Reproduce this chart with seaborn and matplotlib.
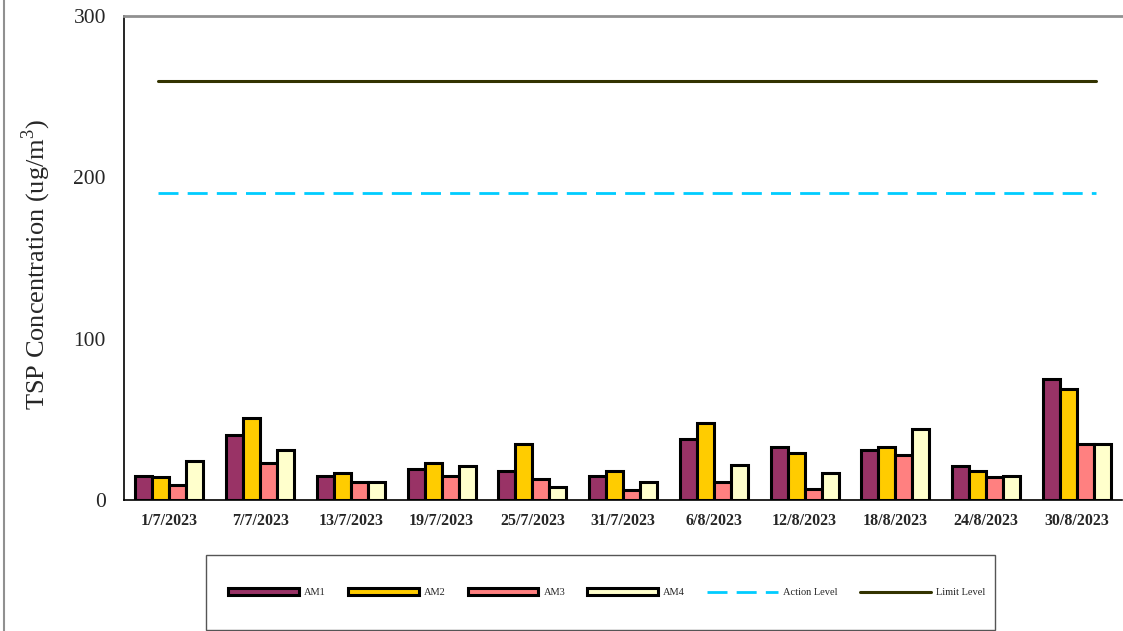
import matplotlib
matplotlib.use("Agg")
import matplotlib.pyplot as plt
import seaborn as sns
import pandas as pd
import numpy as np
from matplotlib.patches import Patch, Rectangle
from matplotlib.lines import Line2D

dates = ["1/7/2023", "7/7/2023", "13/7/2023", "19/7/2023", "25/7/2023", "31/7/2023",
         "6/8/2023", "12/8/2023", "18/8/2023", "24/8/2023", "30/8/2023"]
am1 = [15, 40, 15, 19, 18, 15, 38, 33, 31, 21, 75]
am2 = [14, 51, 17, 23, 35, 18, 48, 29, 33, 18, 69]
am3 = [9, 23, 11, 15, 13, 6, 11, 7, 28, 14, 35]
am4 = [24, 31, 11, 21, 8, 11, 22, 17, 44, 15, 35]
action_level = 190
limit_level = 260
series_names = ["AM1", "AM2", "AM3", "AM4"]
colors = ["#993366", "#FFCC00", "#FF8080", "#FFFFCC"]

sns.set_style("white")
plt.rcParams['font.family'] = ['Liberation Serif', 'DejaVu Serif']
plt.rcParams['mathtext.fontset'] = 'custom'
plt.rcParams['mathtext.rm'] = 'Liberation Serif'

rows = []
for name, vals in zip(series_names, [am1, am2, am3, am4]):
    for d, v in zip(dates, vals):
        rows.append({"Date": d, "Series": name, "Value": v})
df = pd.DataFrame(rows)

fig = plt.figure(figsize=(11.23, 6.31), dpi=100)
ax = fig.add_axes([0.1104, 0.2076, 0.889, 0.767])

sns.barplot(data=df, x="Date", y="Value", hue="Series", order=dates,
            hue_order=series_names, palette=colors, width=0.75,
            edgecolor="black", linewidth=2.2, ax=ax, legend=False, saturation=1)

dash = (0, (7.2, 3.3))
n = len(dates)
xs = [-0.12, n - 1 + 0.21]
ax.plot(xs, [action_level] * 2, color="#00CCFF", lw=2, ls=dash)
ax.plot(xs, [limit_level] * 2, color="#333300", lw=2.2)

ax.set_xlim(-0.5, n - 0.5)
ax.set_ylim(0, 300)
ax.set_yticks([0, 100, 200, 300])
ax.set_xticks(np.arange(n))
ax.set_xticklabels(dates, fontsize=11.5, fontweight="bold")
ax.tick_params(axis="x", length=0, pad=9)
ax.set_xticks(np.arange(n - 1) + 0.5, minor=True)
ax.tick_params(axis="x", which="minor", direction="in", length=4, width=1, color="#444444")
ax.tick_params(axis="y", direction="in", length=5, width=1, labelsize=15.5, pad=13, color="black")
ax.set_xlabel("")
ax.set_ylabel("TSP Concentration (ug/m$^{\\mathregular{3}}$)", fontsize=19)
ax.yaxis.set_label_coords(-0.0715, 0.486)

for s in ["left", "bottom"]:
    ax.spines[s].set_color("black")
    ax.spines[s].set_linewidth(1.2)
ax.spines["top"].set_color("#909090")
ax.spines["top"].set_linewidth(2)
ax.spines["right"].set_visible(False)

# legend frame box
box_x0, box_y0, box_w, box_h = 206 / 1123, 1 / 631, 789 / 1123, 75 / 631
fig.add_artist(Rectangle((box_x0, box_y0), box_w, box_h, transform=fig.transFigure,
                         facecolor="white", edgecolor="#555555", lw=1))

handles = [Patch(facecolor=c, edgecolor="black", linewidth=2.2, label=nm)
           for c, nm in zip(colors, series_names)]
handles.append(Line2D([], [], color="#00CCFF", lw=2, ls=dash, label="Action Level"))
handles.append(Line2D([], [], color="#333300", lw=2.2, label="Limit Level"))
leg = fig.legend(handles=handles, loc="center", ncol=6,
                 bbox_to_anchor=(228 / 1123, box_y0, 757 / 1123, box_h), mode="expand",
                 fontsize=7.5, frameon=False, handlelength=6.8,
                 handleheight=0.6, handletextpad=0.5, columnspacing=1.0,
                 borderpad=0, borderaxespad=0)

fig.add_artist(Line2D([0.004, 0.004], [0, 1], transform=fig.transFigure,
                      color="#909090", lw=1.5))

fig.savefig("out.png", dpi=100)
